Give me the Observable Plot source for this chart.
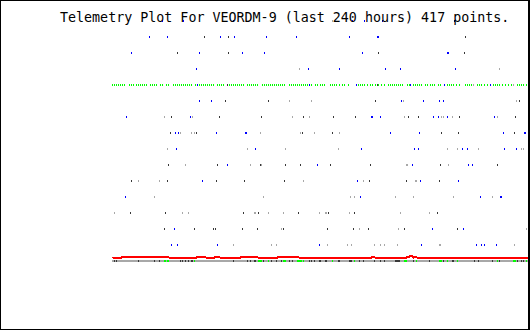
<!DOCTYPE html>
<html>
<head>
<meta charset="utf-8">
<script src="https://cdn.jsdelivr.net/npm/d3@7"></script>
<script src="https://cdn.jsdelivr.net/npm/@observablehq/plot@0.6"></script>
<style>
  html, body { margin: 0; padding: 0; background: #fff; }
  #wrap { position: relative; width: 530px; height: 330px; overflow: hidden; }
  #chart { position: absolute; left: 0; top: 0; }
  #title { position: absolute; left: 60px; top: 10px; font-family: "DejaVu Sans Mono", monospace; font-size: 13.33px; line-height: 16px; color: #000; white-space: pre; }
  #frame { position: absolute; left: 0; top: 0; width: 530px; height: 330px; box-sizing: border-box;
           border-left: 1px solid #000; border-top: 1px solid #000; border-bottom: 1px solid #000; border-right: 2px solid #000; pointer-events: none; }
</style>
</head>
<body>
<div id="wrap">
  <div id="chart"></div>
  <div id="title">Telemetry Plot For VEORDM-9 (last 240 hours) 417 points.</div>
  <div id="frame"></div>
</div>
<script>
// Sample index (0..416) of each reading, one list per telemetry channel row (row 0 at top)
const blueSamples = [
  [50, 71, 121, 240, 252, 270, 342],
  [37, 55, 108, 122, 154, 184, 237, 265, 266],
  [19, 87, 130, 152, 250, 335, 336],
  [84, 196, 227, 273, 288, 343],
  [85, 197, 244, 298, 332, 378],
  [87, 99, 289, 311, 327, 331],
  [14, 78, 259, 260, 268, 321, 326, 335, 382],
  [63, 66, 104, 133, 134, 278, 307, 391, 412, 413],
  [64, 143, 249, 302, 306, 350, 355, 392, 404],
  [115, 205, 300, 356, 360],
  [90, 245, 308, 346],
  [13, 248, 368, 388, 389],
  [],
  [62, 320, 351],
  [59, 65, 105, 207, 309, 364, 369, 372, 384]
];
const darkSamples = [
  [],
  [92, 116, 353],
  [65, 116, 266, 352],
  [],
  [115, 265],
  [113, 156, 263, 407],
  [59, 107, 149, 191, 221, 243, 296, 306, 347, 403],
  [58, 84, 190, 220, 329, 346, 402],
  [],
  [56, 105, 148, 173, 188, 218, 258, 328, 385],
  [19, 55, 104, 132, 172, 257, 294, 327],
  [],
  [18, 53, 131, 146, 186, 216, 242, 325],
  [52, 82, 101, 103, 130, 145, 171, 215, 241, 256, 292, 345],
  []
];
const graySamples = [
  [220],
  [],
  [],
  [187, 387],
  [361, 401],
  [177, 199, 291, 404],
  [52, 80, 180, 197, 292, 329, 331, 340, 385],
  [68, 79, 82, 148, 188, 202, 227],
  [55, 135, 173, 226, 335, 345, 366, 409, 411],
  [73, 138, 149, 294, 295, 336],
  [26, 47, 191, 251, 303, 304],
  [42, 151, 238, 242, 283, 301, 341, 380],
  [2, 70, 76, 142, 143, 156, 171, 207, 213, 214, 237, 288, 317],
  [169, 247, 286, 414],
  [121, 159, 164, 215, 235, 239, 262, 268, 272, 285, 327, 328, 402]
];
// Green status channel (row 4)
const greenRow = 4;
const greenSamples = [
  0, 2, 4, 6, 8, 10, 12, 17, 19, 21, 24, 26, 28, 30, 32, 34, 38, 40, 42, 44, 48, 50, 54, 56,
  61, 63, 65, 67, 69, 71, 73, 75, 77, 79, 83, 87, 89, 91, 93, 95, 97, 99, 101, 105, 107, 109, 111,
  117, 119, 121, 123, 125, 127, 129, 131, 135, 137, 139, 141, 143, 145, 150, 152, 154, 156, 158,
  160, 162, 164, 166, 168, 170, 172, 177, 179, 181, 183, 185, 187, 189, 191, 193, 195, 199,
  203, 205, 208, 210, 212, 218, 220, 222, 224, 227, 230, 232, 236, 246, 248, 250, 252, 255, 258, 260, 263, 266, 269, 272,
  276, 278, 280, 282, 284, 286, 288, 290, 295, 297, 301, 303, 305, 307, 309, 313, 315, 318, 320, 322,
  326, 328, 335, 337, 339, 341, 344, 347, 353, 355, 357, 359, 365, 367, 369, 372, 375, 381, 383, 385, 387, 390, 393, 396,
  399, 405, 407, 409, 411, 414
];
// Bottom sample strip (all samples), with dark and green markers
const stripRow = 15;
const stripDark = [2, 4, 26, 42, 47, 68, 70, 73, 76, 79, 80, 121, 135, 138, 142, 143, 151, 159, 164, 169,
  177, 180, 197, 199, 202, 207, 208, 213, 214, 226, 227, 237, 238, 239, 247, 251, 262, 268, 272, 283, 284,
  285, 286, 287, 301, 317, 331, 340, 341, 362, 366, 380, 387, 405, 409, 411];
const stripGreen = [52, 53, 55, 56, 82, 146, 147, 148, 149, 156, 171, 172, 173, 185, 186, 187, 188, 189, 191,
  220, 242, 292, 293, 294, 304, 327, 328, 329, 335, 345, 385, 401, 402, 403, 414];
// Red trend: step starts and level (in row units)
const trendStart = [0, 9, 56, 84, 93, 102, 107, 128, 145, 165, 186, 259, 262, 294, 297, 300, 301, 304, 416];
const trendLevel = [14.75, 14.69, 14.75, 14.69, 14.75, 14.69, 14.75, 14.69, 14.75, 14.69, 14.75, 14.69, 14.75, 14.69, 14.63, 14.75, 14.69, 14.75, 14.75];

const BLUE = "#0000ff", DARK = "#383838", GRAY = "#a8a8a8", GREEN = "#00ff00", RED = "#ff0000";
const half = 1 / 16;

const ticks = [];
const addRow = (r, list, color) => list.forEach(t => ticks.push({row: r, t, color}));
greenSamples.forEach(t => ticks.push({row: greenRow, t, color: GREEN}));
graySamples.forEach((l, r) => addRow(r, l, GRAY));
darkSamples.forEach((l, r) => addRow(r, l, DARK));
blueSamples.forEach((l, r) => addRow(r, l, BLUE));
stripDark.forEach(t => ticks.push({row: stripRow, t, color: DARK}));
stripGreen.forEach(t => ticks.push({row: stripRow, t, color: GREEN}));

const trend = trendStart.map((t, i) => ({t, v: trendLevel[i]}));

const chart = Plot.plot({
  width: 530,
  height: 330,
  margin: 0,
  x: {domain: [0, 416], range: [112, 528], axis: null},
  y: {domain: [0, 15], range: [21, 261], axis: null},
  color: {type: "identity"},
  style: {background: "#fff"},
  marks: [
    Plot.rect([{a: 0, b: 416}], {x1: "a", x2: "b", y1: stripRow - half, y2: stripRow + half, fill: GRAY, shapeRendering: "crispEdges"}),
    Plot.rect(ticks, {x1: "t", x2: d => d.t + 1, y1: d => d.row - half, y2: d => d.row + half, fill: "color", shapeRendering: "crispEdges"}),
    Plot.line(trend, {x: "t", y: "v", stroke: RED, strokeWidth: 2, curve: "step-after", shapeRendering: "crispEdges"})
  ]
});
document.getElementById("chart").appendChild(chart);
</script>
</body>
</html>
